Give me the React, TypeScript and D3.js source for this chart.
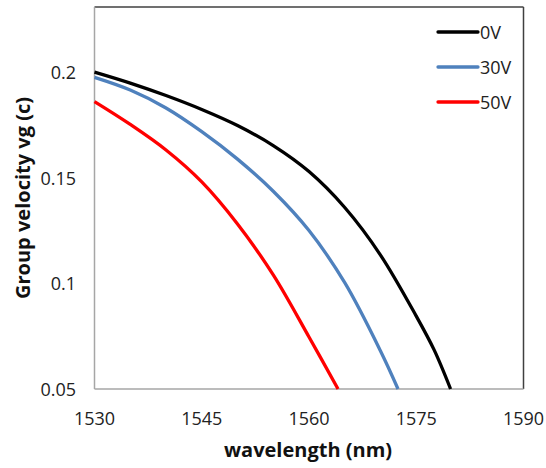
import React from "react";
import * as d3 from "d3";

const wavelengths0V = [1530, 1535, 1540, 1545, 1550, 1555, 1560, 1565, 1570, 1575, 1577.5, 1579.8];
const values0V = [0.2, 0.1948, 0.1889, 0.1823, 0.1747, 0.1652, 0.1529, 0.1359, 0.1134, 0.0845, 0.0685, 0.05];

const wavelengths30V = [1530, 1535, 1540, 1545, 1550, 1555, 1560, 1565, 1570, 1572.45];
const values30V = [0.1975, 0.1915, 0.183, 0.1718, 0.1588, 0.1436, 0.125, 0.1003, 0.068, 0.05];

const wavelengths50V = [1530, 1535, 1540, 1545, 1550, 1555, 1560, 1564.06];
const values50V = [0.186, 0.1752, 0.1631, 0.148, 0.1281, 0.104, 0.0746, 0.05];

const seriesNames = ["0V", "30V", "50V"];
const seriesColors = ["#000000", "#4f81bd", "#ff0000"];

const xTicks = [1530, 1545, 1560, 1575, 1590];
const yTicks = [0.05, 0.1, 0.15, 0.2];
const yTickLabels = ["0.05", "0.1", "0.15", "0.2"];

const xTitle = "wavelength (nm)";
const yTitle = "Group velocity vg (c)";

const W = 546;
const H = 468;
const left = 94.5;
const right = 523.5;
const top = 7;
const bottom = 389;

export default function App() {
  const x = d3.scaleLinear().domain([1530, 1590]).range([left, right]);
  const y = d3.scaleLinear().domain([0.05, 0.2308]).range([bottom, top]);
  const line = d3
    .line<[number, number]>()
    .x((d) => x(d[0]))
    .y((d) => y(d[1]))
    .curve(d3.curveCatmullRom.alpha(0.5));

  const series = [
    wavelengths0V.map((w, i) => [w, values0V[i]] as [number, number]),
    wavelengths30V.map((w, i) => [w, values30V[i]] as [number, number]),
    wavelengths50V.map((w, i) => [w, values50V[i]] as [number, number]),
  ];

  const font = "'Open Sans', 'Liberation Sans', sans-serif";

  return (
    <svg
      width={W}
      height={H}
      style={{ position: "absolute", left: 0, top: 0, background: "#fff" }}
      fontFamily={font}
    >
      <rect x={0} y={0} width={W} height={H} fill="#fff" />
      <line x1={left} y1={top} x2={right} y2={top} stroke="#404040" strokeWidth={1.5} />
      <line x1={right} y1={top} x2={right} y2={bottom} stroke="#404040" strokeWidth={1.5} />
      <line x1={left} y1={top} x2={left} y2={bottom} stroke="#a6a6a6" strokeWidth={1.5} />
      <line x1={left} y1={bottom} x2={right} y2={bottom} stroke="#a6a6a6" strokeWidth={1.5} />

      <g>
        {series.map((s, i) => (
          <path
            key={seriesNames[i]}
            d={line(s) || ""}
            fill="none"
            stroke={seriesColors[i]}
            strokeWidth={3.3}
            strokeLinejoin="round"
          />
        ))}
      </g>

      {yTicks.map((t, i) => (
        <text
          key={t}
          x={76}
          y={y(t)}
          textAnchor="end"
          dominantBaseline="central"
          fontSize={18}
          fill="#222"
        >
          {yTickLabels[i]}
        </text>
      ))}
      {xTicks.map((t) => (
        <text key={t} x={x(t)} y={425} textAnchor="middle" fontSize={18} fill="#222">
          {t}
        </text>
      ))}

      <text x={308} y={457} textAnchor="middle" fontSize={20} fontWeight="bold" fill="#111">
        {xTitle}
      </text>
      <text
        transform={`translate(30, ${(top + bottom) / 2}) rotate(-90)`}
        textAnchor="middle"
        fontSize={20}
        fontWeight="bold"
        fill="#111"
      >
        {yTitle}
      </text>

      {seriesNames.map((n, i) => {
        const ly = 32 + i * 35;
        return (
          <g key={n}>
            <line x1={438} x2={478} y1={ly} y2={ly} stroke={seriesColors[i]} strokeWidth={3.3} strokeLinecap="round" />
            <text x={480} y={ly} dominantBaseline="central" fontSize={18} fill="#222">
              {n}
            </text>
          </g>
        );
      })}
    </svg>
  );
}
